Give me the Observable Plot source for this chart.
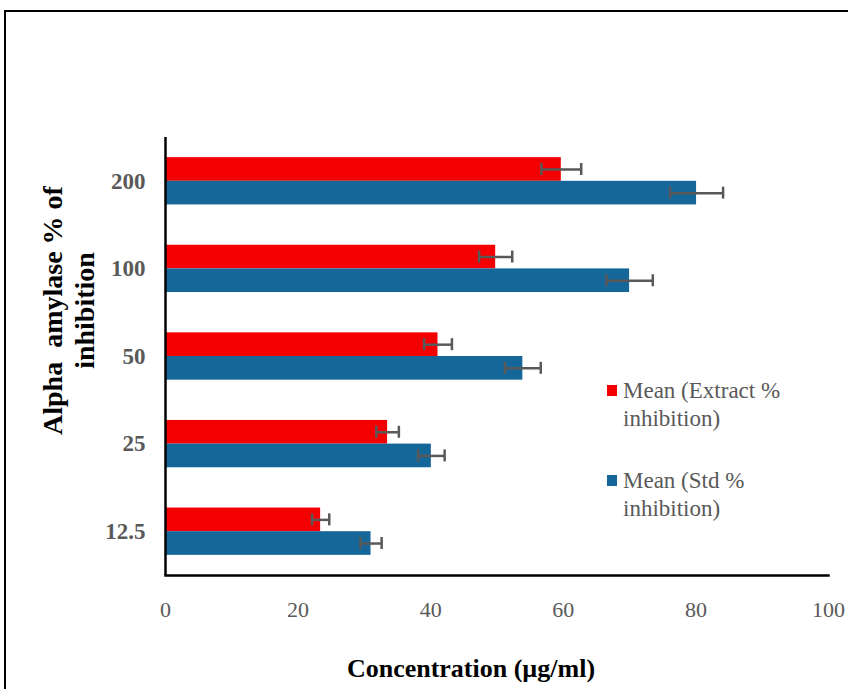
<!DOCTYPE html>
<html>
<head>
<meta charset="utf-8">
<script src="https://cdn.jsdelivr.net/npm/d3@7"></script>
<script src="https://cdn.jsdelivr.net/npm/@observablehq/plot@0.6"></script>
<style>
  html, body { margin: 0; padding: 0; background: #fff; overflow: hidden; }
  #wrap { position: relative; width: 848px; height: 689px; }
  #chart { position: absolute; left: 0; top: 0; }
  #border { position: absolute; left: 4px; top: 9.5px; width: 900px; height: 800px;
            border: 2.5px solid #000; pointer-events: none; }
  .leg { position: absolute; font-family: "Liberation Serif", "Times New Roman", Times, "DejaVu Serif", serif; font-size: 23px;
         line-height: 28px; color: #595959; white-space: nowrap; }
  .sw { position: absolute; width: 10px; height: 11px; }
</style>
</head>
<body>
<div id="wrap">
  <div id="chart"></div>
  <div id="border"></div>
</div>
<script>
// ---- data ----
const categories = ["200", "100", "50", "25", "12.5"];
const extractMean = [59.7, 49.8, 41.1, 33.5, 23.4];
const extractErr  = [3.0, 2.5, 2.1, 1.7, 1.3];
const stdMean     = [80.1, 70.0, 53.9, 40.1, 31.0];
const stdErr      = [4.0, 3.5, 2.7, 2.0, 1.6];
const xTicks = [0, 20, 40, 60, 80, 100];
const seriesNames = ["Mean (Extract %\ninhibition)", "Mean (Std %\ninhibition)"];
const colors = ["#f40000", "#15679a"];
const xTitle = "Concentration (µg/ml)";
const yTitle = "Alpha  amylase % of\ninhibition";

const ext = categories.map((c, i) => ({cat: c, mean: extractMean[i], err: extractErr[i]}));
const std = categories.map((c, i) => ({cat: c, mean: stdMean[i], err: stdErr[i]}));

const W = 848, H = 689;
const mTop = 137, mBottom = 114, mLeft = 165, mRight = 20;
const pIn = 0.46, pOut = 0.23;
const step = (H - mTop - mBottom) / (categories.length - pIn + 2 * pOut);
const bw = step * (1 - pIn);
const half = bw / 2;
const cap = 6;
const errColor = "#595959";
const serif = "'Liberation Serif', 'Times New Roman', Times, 'DejaVu Serif', serif";

const lo = d => d.mean - d.err, hi = d => d.mean + d.err;

const chart = Plot.plot({
  width: W, height: H,
  marginTop: mTop, marginBottom: mBottom, marginLeft: mLeft, marginRight: mRight,
  style: {fontFamily: serif, color: "#595959", background: "transparent"},
  x: {domain: [0, 100], ticks: xTicks, label: null, axis: null},
  y: {domain: categories, paddingInner: pIn, paddingOuter: pOut, round: false, label: null, axis: null},
  marks: [
    Plot.barX(ext, {x: "mean", y: "cat", fill: colors[0], insetBottom: half}),
    Plot.barX(std, {x: "mean", y: "cat", fill: colors[1], insetTop: half}),
    // error bars
    Plot.ruleY(ext, {x1: lo, x2: hi, y: "cat", dy: -half / 2, stroke: errColor, strokeWidth: 2.5}),
    Plot.ruleY(std, {x1: lo, x2: hi, y: "cat", dy: half / 2, stroke: errColor, strokeWidth: 2.5}),
    Plot.tickX(ext, {x: lo, y: "cat", insetTop: half / 2 - cap, insetBottom: half * 1.5 - cap, stroke: errColor, strokeWidth: 2.5}),
    Plot.tickX(ext, {x: hi, y: "cat", insetTop: half / 2 - cap, insetBottom: half * 1.5 - cap, stroke: errColor, strokeWidth: 2.5}),
    Plot.tickX(std, {x: lo, y: "cat", insetTop: half * 1.5 - cap, insetBottom: half / 2 - cap, stroke: errColor, strokeWidth: 2.5}),
    Plot.tickX(std, {x: hi, y: "cat", insetTop: half * 1.5 - cap, insetBottom: half / 2 - cap, stroke: errColor, strokeWidth: 2.5}),
    // axes
    Plot.axisX(xTicks, {anchor: "bottom", tickSize: 0, tickPadding: 26, fontSize: 22, fill: "#595959", label: null}),
    Plot.axisY({anchor: "left", tickSize: 0, tickPadding: 20, fontSize: 23, fontWeight: "bold", fill: "#595959", label: null}),
    Plot.ruleX([0], {stroke: "#000", strokeWidth: 2.5}),
    Plot.frame({anchor: "bottom", stroke: "#000", strokeWidth: 2.5}),
    // titles
    Plot.text([xTitle], {frameAnchor: "bottom", dx: -26, dy: 93, text: d => d, fontSize: 26, fontWeight: "bold", fill: "#000", textAnchor: "middle", lineAnchor: "middle"}),
    Plot.text([yTitle], {frameAnchor: "left", dx: -98, dy: -46, rotate: -90, text: d => d, fontSize: 28, fontWeight: "bold", fill: "#000", textAnchor: "middle", lineAnchor: "middle", lineHeight: 1.15})
  ]
});
document.getElementById("chart").appendChild(chart);

// legend (inside plot area, on the right)
const wrap = document.getElementById("wrap");
const legTops = [377, 467];
seriesNames.forEach((name, i) => {
  const sw = document.createElement("div");
  sw.className = "sw";
  sw.style.left = "607px";
  sw.style.top = (legTops[i] + 8) + "px";
  sw.style.background = colors[i];
  wrap.appendChild(sw);
  const t = document.createElement("div");
  t.className = "leg";
  t.style.left = "623px";
  t.style.top = legTops[i] + "px";
  t.innerHTML = name.split("\n").join("<br>");
  wrap.appendChild(t);
});
</script>
</body>
</html>
